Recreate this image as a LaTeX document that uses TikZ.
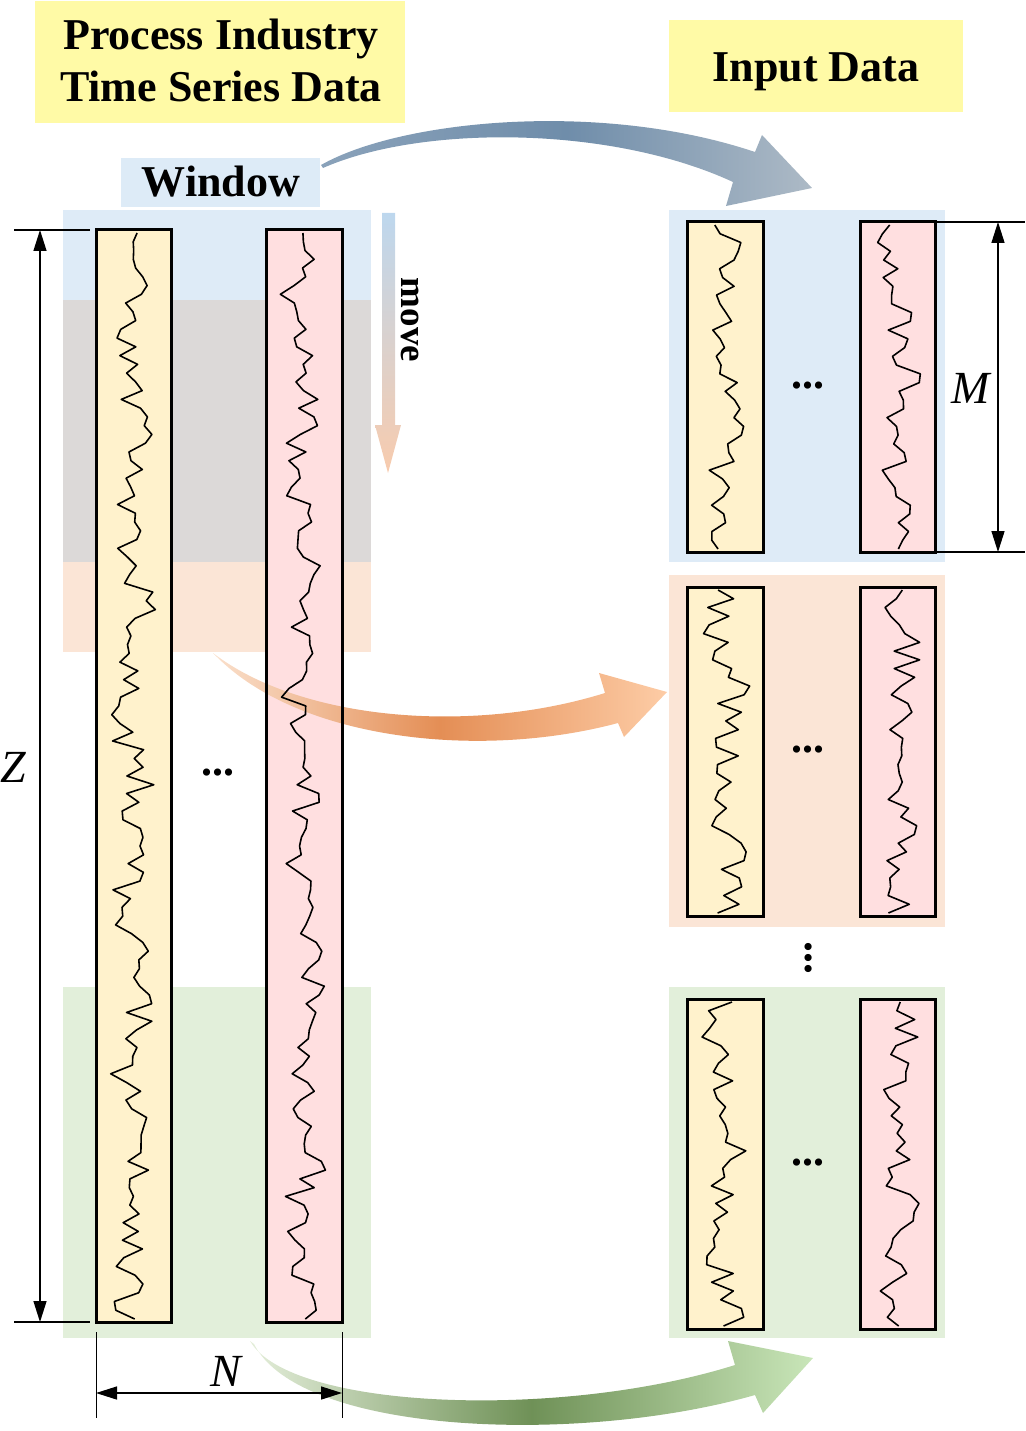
\documentclass[tikz,border=0pt]{standalone}
\usepackage{fontspec}
\setmainfont{Liberation Serif}
\usetikzlibrary{arrows.meta}
\definecolor{titleY}{HTML}{FFFAA6}
\definecolor{winB}{HTML}{DDEBF7}
\definecolor{bandB}{HTML}{DEEBF7}
\definecolor{bandG}{HTML}{DCD9D8}
\definecolor{bandO}{HTML}{FBE5D6}
\definecolor{bandGr}{HTML}{E2EFDA}
\definecolor{colY}{HTML}{FFF2CC}
\definecolor{colP}{HTML}{FFDFE0}
\definecolor{arBa}{HTML}{8AA2BA}
\definecolor{arBb}{HTML}{6F8DAA}
\definecolor{arBc}{HTML}{ADBAC6}
\definecolor{arOa}{HTML}{FAE0CC}
\definecolor{arOb}{HTML}{E48E55}
\definecolor{arOc}{HTML}{FDCCA6}
\definecolor{arGa}{HTML}{E4EEDA}
\definecolor{arGb}{HTML}{6F9157}
\definecolor{arGc}{HTML}{C9E6B9}
\definecolor{mvT}{HTML}{BDD7EE}
\definecolor{mvB}{HTML}{F8CBAD}

\newcommand\rectnode[6]{%
  \pgfmathsetmacro\rnw{#5-#3}%
  \pgfmathsetmacro\rnh{#6-#4}%
  \node[#1, minimum width=\rnw pt, minimum height=\rnh pt] (#2) at ({(#3+#5)/2},{(#4+#6)/2}) {};%
}
\newcommand\wave[6]{%
  \pgfmathsetseed{#1}%
  \draw[wave] plot[domain=#3:#4, samples=#5, variable=\t] ({#2+15*rand+7*sin(1.9*\t+#6)+4*sin(4.3*\t+2*#6)}, \t);%
}

\begin{document}
\begin{tikzpicture}[x=1pt,y=-1pt,
  fillbox/.style={draw=none, fill=#1, inner sep=0pt, outer sep=0pt},
  column/.style={draw=none, fill=#1, inner sep=0pt, outer sep=0pt},
  colborder/.style={draw=black, line width=3pt},
  wave/.style={line width=1.6pt, line join=round},
  big/.style={font=\bfseries\fontsize{44}{52}\selectfont, inner sep=0pt},
  var/.style={font=\itshape\fontsize{46}{50}\selectfont, inner sep=0pt},
  dots/.style={font=\bfseries\fontsize{44}{50}\selectfont, inner sep=0pt},
  dim/.style={line width=1.4pt},
  dimarrow/.style={dim, {Triangle[length=21pt,width=13pt]}-{Triangle[length=21pt,width=13pt]}},
]
\useasboundingbox (0,0) rectangle (1025,1431);

% left window bands
\rectnode{fillbox=bandB}{bandwin}{63}{210}{371}{300}
\rectnode{fillbox=bandG}{bandover}{63}{300}{371}{562}
\rectnode{fillbox=bandO}{bandnext}{63}{562}{371}{652}
\rectnode{fillbox=bandGr}{bandlast}{63}{987}{371}{1338}

% right panels
\rectnode{fillbox=bandB}{pA}{669}{210}{945}{562}
\rectnode{fillbox=bandO}{pB}{669}{575}{945}{927}
\rectnode{fillbox=bandGr}{pC}{669}{987}{945}{1338}

% title boxes
\rectnode{fillbox=titleY}{titlebox}{35}{1}{405}{123}
\rectnode{fillbox=titleY}{inbox}{669}{20}{963}{112}
\rectnode{fillbox=winB}{winbox}{121}{158}{320}{207}

\node[big, anchor=base] (t1) at (221,50) {Process Industry};
\node[big, anchor=base] (t2) at (221,102) {Time Series Data};
\node[big, anchor=base] (t3) at (816,82) {Input Data};
\node[big, anchor=base] (t4) at (221,197) {Window};

% columns
\rectnode{column=colY}{LA}{96}{230}{171}{1322}
\rectnode{column=colP}{LB}{266}{230}{342}{1322}
\rectnode{column=colY}{RAa}{687}{222}{763}{552}
\rectnode{column=colP}{RBa}{860}{222}{935}{552}
\rectnode{column=colY}{RAb}{687}{587}{763}{916}
\rectnode{column=colP}{RBb}{860}{587}{935}{916}
\rectnode{column=colY}{RAc}{687}{999}{763}{1329}
\rectnode{column=colP}{RBc}{860}{999}{935}{1329}

% move arrow
\shade[top color=mvT, bottom color=mvB]
  (382,213) -- (395,213) -- (395,425) -- (401,425) -- (388,473) -- (375,425) -- (382,425) -- cycle;
\node[font=\bfseries\fontsize{37}{40}\selectfont, rotate=-90, inner sep=0pt] (mv) at (410,320) {move};

% big curved arrows
\shade[left color=arBa, right color=arBc, middle color=arBb]
  (321,165) .. controls (400,120) and (600,100) .. (755,152) -- (762,135) -- (812,188)
  -- (726,206) -- (733,182) .. controls (610,125) and (420,125) .. (323,168) -- cycle;
\shade[left color=arOa, right color=arOc, middle color=arOb]
  (213,653) .. controls (300,720) and (470,735) .. (605,693) -- (599,673) -- (667,692)
  -- (624,737) -- (618,723) .. controls (480,760) and (300,740) .. (217,657) -- cycle;
\shade[left color=arGa, right color=arGc, middle color=arGb]
  (250,1341) .. controls (290,1410) and (560,1420) .. (735,1365) -- (728,1341) -- (813,1358)
  -- (763,1413) -- (755,1395) .. controls (580,1445) and (300,1435) .. (254,1344) -- cycle;

% waves
\wave{11}{133.5}{233}{1319}{125}{0}
\wave{23}{304}{233}{1319}{125}{70}
\wave{31}{725}{225}{549}{38}{20}
\wave{47}{897.5}{225}{549}{38}{140}
\wave{53}{725}{590}{913}{38}{200}
\wave{67}{897.5}{590}{913}{38}{260}
\wave{71}{725}{1002}{1326}{38}{90}
\wave{89}{897.5}{1002}{1326}{38}{310}

% column borders
\foreach \n in {LA,LB,RAa,RBa,RAb,RBb,RAc,RBc}
  \draw[colborder] (\n.north west) rectangle (\n.south east);

% dots
\node[dots] (d0) at (218,773) {...};
\node[dots] (d1) at (808,386) {...};
\node[dots] (d2) at (808,750) {...};
\node[dots] (d3) at (808,1163) {...};
\node[dots, rotate=90] (d4) at (809,958) {...};

% Z dimension
\coordinate (zta) at (14,230); \coordinate (ztb) at (90,230);
\coordinate (zba) at (14,1322); \coordinate (zbb) at (90,1322);
\coordinate (za) at (40,230); \coordinate (zb) at (40,1322);
\draw[dim] (zta) -- (ztb);
\draw[dim] (zba) -- (zbb);
\draw[dimarrow] (za) -- (zb);
\node[var] (Z) at (13,767) {Z};

% M dimension
\coordinate (mta) at (935,222); \coordinate (mtb) at (1025,222);
\coordinate (mba) at (935,552); \coordinate (mbb) at (1025,552);
\coordinate (ma) at (998,222); \coordinate (mb) at (998,552);
\draw[dim] (mta) -- (mtb);
\draw[dim] (mba) -- (mbb);
\draw[dimarrow] (ma) -- (mb);
\node[var] (M) at (971,388) {M};

% N dimension
\coordinate (nla) at (96,1332); \coordinate (nlb) at (96,1418);
\coordinate (nra) at (342,1332); \coordinate (nrb) at (342,1418);
\coordinate (na) at (96,1393); \coordinate (nb) at (342,1393);
\draw[line width=1pt] (nla) -- (nlb);
\draw[line width=1pt] (nra) -- (nrb);
\draw[dimarrow] (na) -- (nb);
\node[var] (N) at (226,1371) {N};
\end{tikzpicture}
\end{document}
